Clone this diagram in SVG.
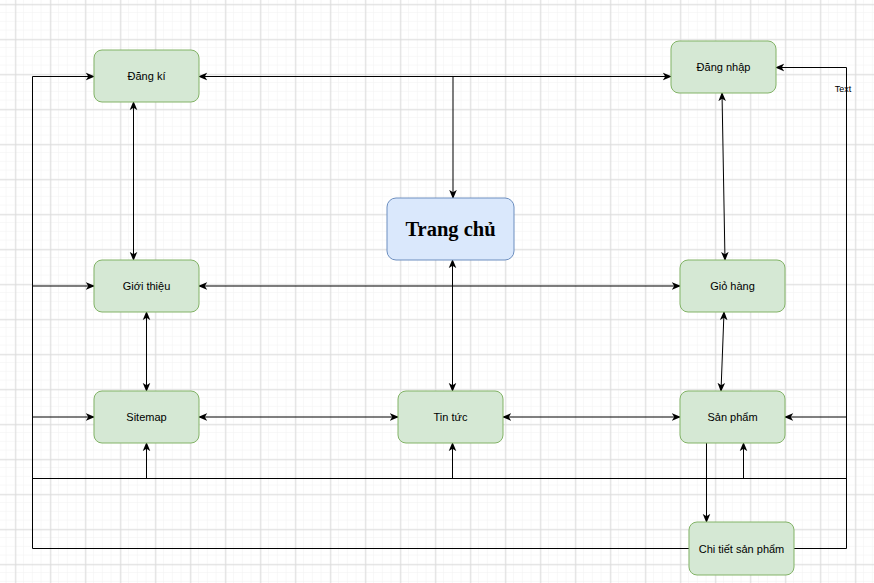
<svg xmlns="http://www.w3.org/2000/svg" width="874" height="583" viewBox="0 0 874 583">
<defs>
<pattern id="minor" patternUnits="userSpaceOnUse" x="6.55" y="4.3" width="8.75" height="8.75">
<path d="M8.75 0V8.75M0 8.75H8.75" fill="none" stroke="#f1f1f1" stroke-width="1"/>
</pattern>
<pattern id="major" patternUnits="userSpaceOnUse" x="15.3" y="4.3" width="35" height="35">
<path d="M0.5 0V35M0 0.5H35" fill="none" stroke="#dcdcdc" stroke-width="1"/>
</pattern>
<marker id="arr" viewBox="0 0 10 10" refX="9" refY="5" markerWidth="9" markerHeight="9" markerUnits="userSpaceOnUse" orient="auto-start-reverse">
<path d="M0 0.8 L10 5 L0 9.2 L2.6 5 Z" fill="#000"/>
</marker>
<style>
.n{fill:#d5e8d4;stroke:#82b366;stroke-width:1}
.t{font-family:"Liberation Sans",Arial,sans-serif;font-size:11px;fill:#000;text-anchor:middle;dominant-baseline:central}
.c{fill:none;stroke:#000;stroke-width:1}
.a{marker-end:url(#arr)}
.b{marker-start:url(#arr);marker-end:url(#arr)}
</style>
</defs>
<rect width="874" height="583" fill="#fff"/>
<rect width="874" height="583" fill="url(#minor)"/>
<rect width="874" height="583" fill="url(#major)"/>

<g id="connectors">
<path class="c b" d="M199 76.5H671"/>
<path class="c a" d="M453 76.5V198"/>
<path class="c b" d="M133.5 102V260"/>
<path class="c b" d="M199 286H680"/>
<path class="c b" d="M452.5 260V391"/>
<path class="c b" d="M146.5 312V391"/>
<path class="c b" d="M199 417H398"/>
<path class="c b" d="M503 417H680"/>
<path class="c b" d="M722 93L725 260"/>
<path class="c b" d="M724 312L721 391"/>
<path class="c a" d="M706.5 443V522"/>
<path class="c" d="M689 548.5H32.5V76.5"/>
<path class="c a" d="M32.5 76.5H94"/>
<path class="c a" d="M32.5 286H94"/>
<path class="c a" d="M32.5 417H94"/>
<path class="c" d="M32.5 478.5H846.5"/>
<path class="c a" d="M146.5 478.5V443"/>
<path class="c a" d="M452.5 478.5V443"/>
<path class="c a" d="M743.5 478.5V443"/>
<path class="c" d="M794 548.5H846.5V67.5"/>
<path class="c a" d="M846.5 67.5H776"/>
<path class="c a" d="M846.5 417H785"/>
<text x="843" y="88.5" font-family="Liberation Sans,Arial,sans-serif" font-size="9" text-anchor="middle" dominant-baseline="central" fill="#000">Text</text>
</g>

<g id="dang-ki"><rect class="n" x="94" y="50" width="105" height="52" rx="8"/><text class="t" x="146.5" y="76">Đăng kí</text></g>
<g id="dang-nhap"><rect class="n" x="671" y="41" width="105" height="52" rx="8"/><text class="t" x="723.5" y="67">Đăng nhập</text></g>
<g id="trang-chu"><rect x="387" y="198" width="127" height="62" rx="9" fill="#dae8fc" stroke="#6c8ebf"/><text x="450.5" y="229" font-family="Liberation Serif,Times New Roman,serif" font-size="20.5" font-weight="bold" text-anchor="middle" dominant-baseline="central" fill="#000">Trang chủ</text></g>
<g id="gioi-thieu"><rect class="n" x="94" y="260" width="105" height="52" rx="8"/><text class="t" x="146.5" y="286">Giới thiệu</text></g>
<g id="gio-hang"><rect class="n" x="680" y="260" width="105" height="52" rx="8"/><text class="t" x="732.5" y="286">Giỏ hàng</text></g>
<g id="sitemap"><rect class="n" x="94" y="391" width="105" height="52" rx="8"/><text class="t" x="146.5" y="417">Sitemap</text></g>
<g id="tin-tuc"><rect class="n" x="398" y="391" width="105" height="52" rx="8"/><text class="t" x="450.5" y="417">Tin tức</text></g>
<g id="san-pham"><rect class="n" x="680" y="391" width="105" height="52" rx="8"/><text class="t" x="732.5" y="417">Sản phẩm</text></g>
<g id="chi-tiet"><rect class="n" x="689" y="522" width="105" height="53" rx="8"/><text class="t" x="741.5" y="548.5">Chi tiết sản phẩm</text></g>
</svg>
